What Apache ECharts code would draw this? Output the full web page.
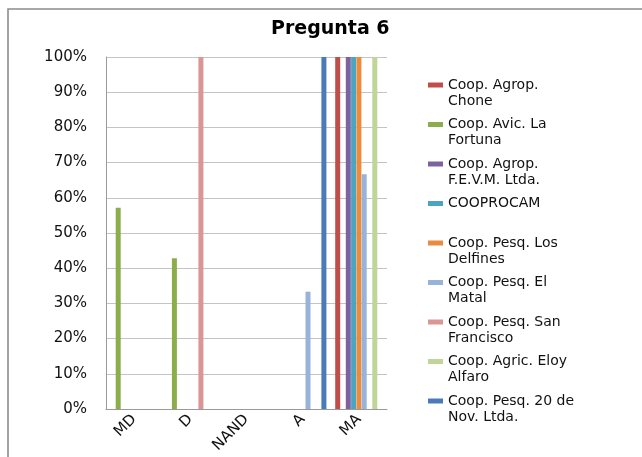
<!DOCTYPE html>
<html><head><meta charset="utf-8">
<script src="https://cdn.jsdelivr.net/npm/echarts@6/dist/echarts.min.js"></script>
<style>html,body{margin:0;padding:0;background:#fff}#c{width:642px;height:457px}</style>
</head><body><div id="c"></div>
<script>
const categories = ['MD', 'D', 'NAND', 'A', 'MA'];
const seriesNames = [
  'Coop. Agrop. Chone',
  'Coop. Avic. La Fortuna',
  'Coop. Agrop. F.E.V.M. Ltda.',
  'COOPROCAM',
  'Coop. Pesq. Los Delfines',
  'Coop. Pesq. El Matal',
  'Coop. Pesq. San Francisco',
  'Coop. Agric. Eloy Alfaro',
  'Coop. Pesq. 20 de Nov. Ltda.'
];
const legendLabels = [
  'Coop. Agrop.\nChone',
  'Coop. Avic. La\nFortuna',
  'Coop. Agrop.\nF.E.V.M. Ltda.',
  'COOPROCAM\n ',
  'Coop. Pesq. Los\nDelfines',
  'Coop. Pesq. El\nMatal',
  'Coop. Pesq. San\nFrancisco',
  'Coop. Agric. Eloy\nAlfaro',
  'Coop. Pesq. 20 de\nNov. Ltda.'
];
const colors = ['#BF4E4B', '#8CAD4B', '#7D61A1', '#4BA5C0', '#EA8B3F', '#98B3DA', '#D99694', '#C1D59A', '#4A7BB8'];
const valChone = [0, 0, 0, 0, 100];
const valFortuna = [57.14, 42.86, 0, 0, 0];
const valFEVM = [0, 0, 0, 0, 100];
const valCooprocam = [0, 0, 0, 0, 100];
const valDelfines = [0, 0, 0, 0, 100];
const valMatal = [0, 0, 0, 33.33, 66.67];
const valSanFrancisco = [0, 100, 0, 0, 0];
const valEloy = [0, 0, 0, 0, 100];
const valNov = [0, 0, 0, 100, 0];
const allValues = [valChone, valFortuna, valFEVM, valCooprocam, valDelfines, valMatal, valSanFrancisco, valEloy, valNov];

const FONT = '"DejaVu Sans", "Liberation Sans", Arial, sans-serif';
const chart = echarts.init(document.getElementById('c'), null, {renderer: 'canvas'});
const labelMap = {};
seriesNames.forEach((n, i) => labelMap[n] = legendLabels[i]);

chart.setOption({
  animation: false,
  backgroundColor: '#fff',
  color: colors,
  graphic: [{
    type: 'rect', z: -10, silent: true,
    shape: {x: 8, y: 9, width: 800, height: 600},
    style: {fill: 'none', stroke: '#8c8c8c', lineWidth: 1.6}
  }],
  title: {
    text: 'Pregunta 6', left: 271, top: 20, padding: 0,
    textStyle: {fontFamily: FONT, fontWeight: 'bold', fontSize: 19, color: '#000'}
  },
  legend: {
    orient: 'vertical', left: 428, top: 77, padding: 0,
    itemWidth: 15, itemHeight: 32, itemGap: 7.5,
    icon: 'path://M0,0L0,0M0,5.5h15v5h-15zM15,32L15,32',
    formatter: n => labelMap[n],
    textStyle: {fontFamily: FONT, fontSize: 14, lineHeight: 16, color: '#111'},
    data: seriesNames
  },
  grid: {left: 106, right: 255, top: 57, bottom: 48, containLabel: false},
  xAxis: {
    type: 'category', data: categories,
    axisLine: {show: true, lineStyle: {color: '#9a9a9a', width: 1}},
    axisTick: {show: false},
    axisLabel: {rotate: 45, margin: 8, fontFamily: FONT, fontSize: 15, color: '#111'},
    splitLine: {show: false}
  },
  yAxis: {
    type: 'value', min: 0, max: 100, interval: 10,
    axisLine: {show: true, lineStyle: {color: '#9a9a9a', width: 1}},
    axisTick: {show: false},
    axisLabel: {formatter: '{value}%', margin: 19, fontFamily: FONT, fontSize: 15, color: '#111'},
    splitLine: {show: true, lineStyle: {color: '#c4c4c4', width: 1}}
  },
  series: seriesNames.map((name, i) => ({
    name: name, type: 'bar', data: allValues[i],
    barWidth: 5, barGap: '6%',
    itemStyle: {color: colors[i]}
  }))
});
</script>
</body></html>
